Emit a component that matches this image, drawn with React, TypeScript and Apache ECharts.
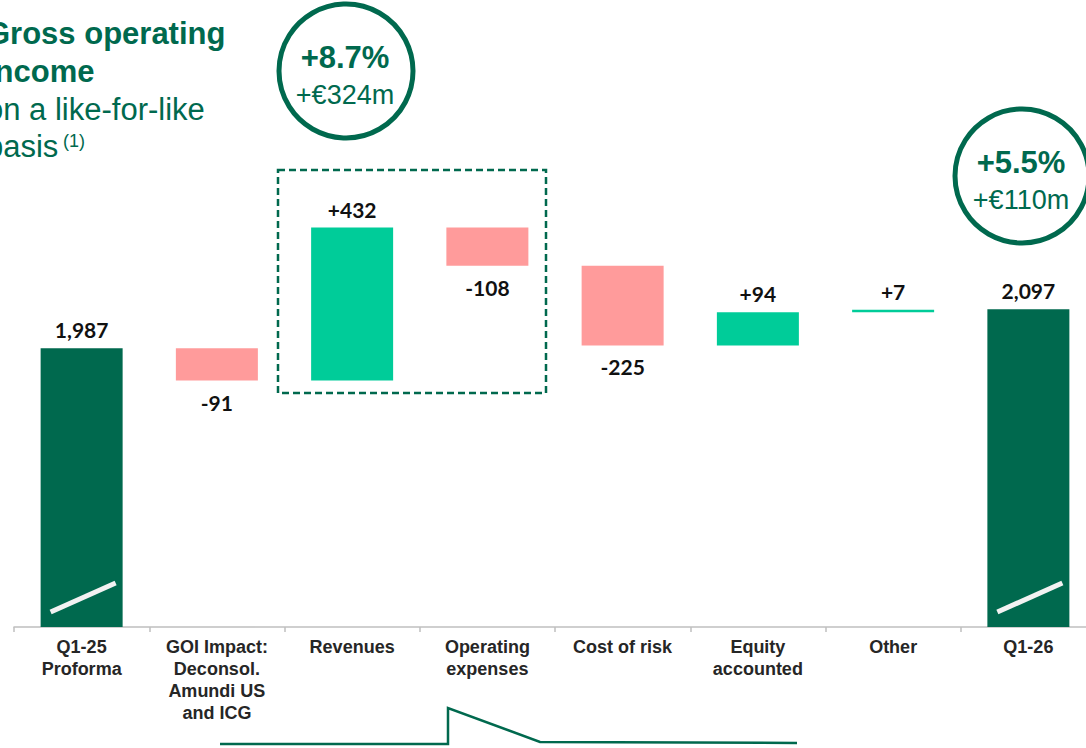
import React, { useEffect, useRef } from "react";
import * as echarts from "echarts";

const categories = [
  "Q1-25\nProforma",
  "GOI Impact:\nDeconsol.\nAmundi US\nand ICG",
  "Revenues",
  "Operating\nexpenses",
  "Cost of risk",
  "Equity\naccounted",
  "Other",
  "Q1-26",
];
const startTotal = 1987;
const endTotal = 2097;
const deltas = [-91, 432, -108, -225, 94, 7];
const axisMin = 1200;
const axisMax = 2400;

const DARK = "#00694E";
const UP = "#00CC99";
const DOWN = "#FF9B9B";

export default function App() {
  const ref = useRef<HTMLDivElement>(null);
  useEffect(() => {
    if (!ref.current) return;
    const chart = echarts.init(ref.current, undefined, { renderer: "svg" });

    const base: number[] = [0];
    const vis: any[] = [];
    vis.push({
      value: startTotal,
      itemStyle: { color: DARK },
      label: { position: "top", distance: 8, formatter: startTotal.toLocaleString("en-US") },
    });
    let run = startTotal;
    deltas.forEach((d) => {
      const lo = Math.min(run, run + d);
      base.push(lo);
      vis.push({
        value: Math.abs(d),
        itemStyle: { color: d >= 0 ? UP : DOWN },
        label: {
          position: d >= 0 ? "top" : "bottom",
          distance: d >= 0 ? 8 : 11,
          formatter: (d >= 0 ? "+" : "") + d,
        },
      });
      run += d;
    });
    base.push(0);
    vis.push({
      value: endTotal,
      itemStyle: { color: DARK },
      label: { position: "top", distance: 8, formatter: endTotal.toLocaleString("en-US") },
    });

    const titleStyle = (text: string, y: number, bold: boolean) => ({
      type: "text",
      x: -14,
      y,
      style: {
        text,
        fill: DARK,
        font: `${bold ? "bold " : ""}31px "Liberation Sans", Arial, sans-serif`,
        verticalAlign: "middle",
        align: "left",
      },
    });

    const circleGroup = (cx: number, cy: number, pct: string, amt: string) => [
      {
        type: "circle",
        shape: { cx, cy, r: 67 },
        style: { fill: "none", stroke: DARK, lineWidth: 5 },
      },
      {
        type: "text",
        x: cx - 1,
        y: cy - 14,
        style: {
          text: pct,
          fill: DARK,
          font: 'bold 31px "Liberation Sans", Arial, sans-serif',
          align: "center",
          verticalAlign: "middle",
        },
      },
      {
        type: "text",
        x: cx - 1,
        y: cy + 24,
        style: {
          text: amt,
          fill: DARK,
          font: '27px "Liberation Sans", Arial, sans-serif',
          align: "center",
          verticalAlign: "middle",
        },
      },
    ];

    chart.setOption({
      animation: false,
      grid: { left: 14, width: 1082, top: 202, bottom: 121, containLabel: false },
      xAxis: {
        type: "category",
        data: categories,
        axisLine: { lineStyle: { color: "#BFBFBF", width: 1.5 } },
        axisTick: { show: true, length: 5, lineStyle: { color: "#BFBFBF", width: 1.5 } },
        axisLabel: {
          interval: 0,
          margin: 9,
          color: "#262626",
          fontFamily: '"Liberation Sans", Arial, sans-serif',
          fontWeight: "bold",
          fontSize: 18,
          lineHeight: 22,
        },
      },
      yAxis: {
        type: "value",
        min: axisMin,
        max: axisMax,
        show: false,
        splitLine: { show: false },
      },
      series: [
        {
          type: "bar",
          stack: "wf",
          data: base,
          barWidth: 82,
          itemStyle: { color: "transparent" },
          emphasis: { disabled: true },
          silent: true,
        },
        {
          type: "bar",
          stack: "wf",
          data: vis,
          barWidth: 82,
          label: {
            show: true,
            color: "#111111",
            fontFamily: "Lato, sans-serif",
            fontWeight: "bold",
            fontSize: 21,
          },
        },
      ],
    });

    const p0 = chart.convertToPixel({ gridIndex: 0 }, [0, axisMin]) as number[];
    const p7 = chart.convertToPixel({ gridIndex: 0 }, [7, axisMin]) as number[];
    const slash = (p: number[]) => ({
      type: "line",
      shape: { x1: p[0] - 31, y1: p[1] - 15, x2: p[0] + 34, y2: p[1] - 44 },
      style: { stroke: "#F2F2F2", lineWidth: 5, lineCap: "butt" },
      z: 100,
    });

    chart.setOption({
      graphic: [
        titleStyle("Gross operating", 33, true),
        titleStyle("income", 71, true),
        titleStyle("on a like-for-like", 109, false),
        titleStyle("basis", 146, false),
        {
          type: "text",
          x: 63,
          y: 141,
          style: {
            text: "(1)",
            fill: DARK,
            font: '18px "Liberation Sans", Arial, sans-serif',
            verticalAlign: "middle",
          },
        },
        ...circleGroup(346, 71, "+8.7%", "+€324m"),
        ...circleGroup(1022, 176, "+5.5%", "+€110m"),
        {
          type: "rect",
          shape: { x: 278, y: 170, width: 268, height: 223 },
          style: { fill: "none", stroke: DARK, lineWidth: 2.5, lineDash: [7, 4] },
        },
        {
          type: "polyline",
          shape: {
            points: [
              [220, 744],
              [448, 744],
              [448, 708],
              [540, 742],
              [797, 743],
            ],
          },
          style: { stroke: DARK, lineWidth: 2.5, fill: "none" },
        },
        slash(p0),
        slash(p7),
      ],
    });

    return () => chart.dispose();
  }, []);
  return (
    <div
      style={{
        position: "fixed",
        left: 0,
        top: 0,
        width: 1086,
        height: 748,
        overflow: "hidden",
        background: "#fff",
      }}
    >
      <div ref={ref} style={{ width: 1110, height: 748 }} />
    </div>
  );
}
